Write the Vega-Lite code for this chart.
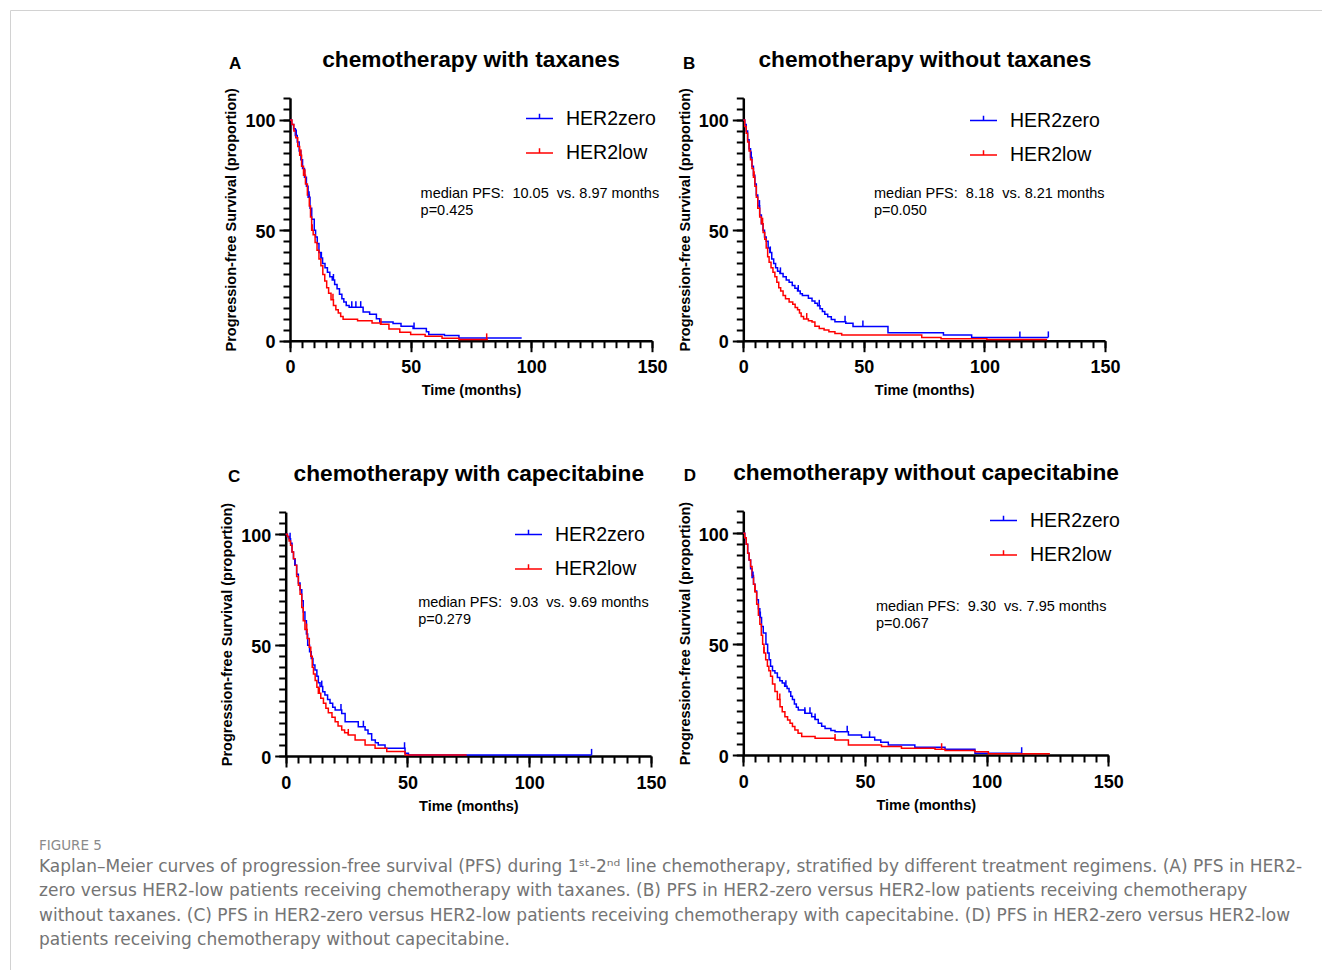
{
"$schema": "https://vega.github.io/schema/vega-lite/v6.json",
"width": 1312, "height": 960, "autosize": "none",
"padding": {"left": 10, "top": 10, "right": 0, "bottom": 0},
"background": "white",
"config": {"view": {"stroke": "#d2d2d2", "strokeWidth": 1}, "font": "Liberation Sans"},
"datasets": {
"kmA": [
{"t":0,"s":100,"g":"HER2zero"},{"t":0.7,"s":98,"g":"HER2zero"},{"t":1.5,"s":96,"g":"HER2zero"},{"t":2.2,"s":93,"g":"HER2zero"},{"t":3,"s":90,"g":"HER2zero"},{"t":3.8,"s":86,"g":"HER2zero"},{"t":4.5,"s":82,"g":"HER2zero"},{"t":5.2,"s":78,"g":"HER2zero"},{"t":6,"s":74,"g":"HER2zero"},{"t":6.8,"s":70,"g":"HER2zero"},{"t":7.5,"s":65,"g":"HER2zero"},{"t":8.3,"s":60,"g":"HER2zero"},{"t":9,"s":55,"g":"HER2zero"},{"t":10.05,"s":50,"g":"HER2zero"},{"t":10.6,"s":47,"g":"HER2zero"},{"t":11.3,"s":44,"g":"HER2zero"},{"t":12,"s":40,"g":"HER2zero"},{"t":12.8,"s":37.5,"g":"HER2zero"},{"t":13.5,"s":35,"g":"HER2zero"},{"t":14.5,"s":33,"g":"HER2zero"},{"t":15.5,"s":31,"g":"HER2zero"},{"t":16.5,"s":29,"g":"HER2zero"},{"t":17.5,"s":27.5,"g":"HER2zero"},{"t":18.5,"s":25.5,"g":"HER2zero"},{"t":19.5,"s":23.5,"g":"HER2zero"},{"t":20.5,"s":21,"g":"HER2zero"},{"t":21.5,"s":19,"g":"HER2zero"},{"t":22.3,"s":17.5,"g":"HER2zero"},{"t":23.3,"s":16,"g":"HER2zero"},{"t":24.5,"s":15.2,"g":"HER2zero"},{"t":30.3,"s":13,"g":"HER2zero"},{"t":33,"s":12,"g":"HER2zero"},{"t":35.8,"s":10,"g":"HER2zero"},{"t":37.2,"s":8.5,"g":"HER2zero"},{"t":42.7,"s":7.8,"g":"HER2zero"},{"t":46,"s":6.5,"g":"HER2zero"},{"t":51,"s":5.5,"g":"HER2zero"},{"t":56.5,"s":4,"g":"HER2zero"},{"t":57.5,"s":2.8,"g":"HER2zero"},{"t":64,"s":2.3,"g":"HER2zero"},{"t":70,"s":1.2,"g":"HER2zero"},{"t":96,"s":1.2,"g":"HER2zero"},
{"t":0,"s":100,"g":"HER2low"},{"t":0.8,"s":98,"g":"HER2low"},{"t":1.6,"s":95,"g":"HER2low"},{"t":2.4,"s":92,"g":"HER2low"},{"t":3.2,"s":88,"g":"HER2low"},{"t":4,"s":84,"g":"HER2low"},{"t":4.8,"s":79,"g":"HER2low"},{"t":5.6,"s":75,"g":"HER2low"},{"t":6.4,"s":71,"g":"HER2low"},{"t":7.2,"s":66,"g":"HER2low"},{"t":8,"s":61,"g":"HER2low"},{"t":8.5,"s":56,"g":"HER2low"},{"t":8.97,"s":50,"g":"HER2low"},{"t":9.6,"s":48,"g":"HER2low"},{"t":10.4,"s":44.5,"g":"HER2low"},{"t":11.2,"s":41,"g":"HER2low"},{"t":12,"s":37,"g":"HER2low"},{"t":12.8,"s":34,"g":"HER2low"},{"t":13.6,"s":30,"g":"HER2low"},{"t":14.4,"s":27,"g":"HER2low"},{"t":15.2,"s":24,"g":"HER2low"},{"t":16,"s":21.5,"g":"HER2low"},{"t":17,"s":18.5,"g":"HER2low"},{"t":18,"s":16,"g":"HER2low"},{"t":19,"s":14,"g":"HER2low"},{"t":20,"s":12.5,"g":"HER2low"},{"t":21,"s":11,"g":"HER2low"},{"t":22,"s":9.7,"g":"HER2low"},{"t":28,"s":9,"g":"HER2low"},{"t":34,"s":8,"g":"HER2low"},{"t":37.5,"s":7.5,"g":"HER2low"},{"t":41,"s":5.3,"g":"HER2low"},{"t":45.5,"s":3.8,"g":"HER2low"},{"t":50,"s":2.8,"g":"HER2low"},{"t":56,"s":2,"g":"HER2low"},{"t":63,"s":1.1,"g":"HER2low"},{"t":70,"s":0.6,"g":"HER2low"},{"t":82,"s":0.6,"g":"HER2low"}
],
"cenA": [
{"t":2.6,"s":93,"g":"HER2zero"},{"t":7.9,"s":65,"g":"HER2zero"},{"t":13,"s":37.5,"g":"HER2zero"},{"t":18,"s":27.5,"g":"HER2zero"},{"t":25.6,"s":15.2,"g":"HER2zero"},{"t":27.3,"s":15.2,"g":"HER2zero"},{"t":29.3,"s":15.2,"g":"HER2zero"},{"t":51.4,"s":5.5,"g":"HER2zero"},
{"t":4.5,"s":84,"g":"HER2low"},{"t":6.2,"s":75,"g":"HER2low"},{"t":9.2,"s":50,"g":"HER2low"},{"t":17.8,"s":18.5,"g":"HER2low"},{"t":37.7,"s":7.5,"g":"HER2low"},{"t":81.5,"s":0.6,"g":"HER2low"}
],
"kmB": [
{"t":0,"s":100,"g":"HER2zero"},{"t":0.6,"s":98,"g":"HER2zero"},{"t":1.2,"s":95,"g":"HER2zero"},{"t":1.8,"s":91,"g":"HER2zero"},{"t":2.4,"s":87,"g":"HER2zero"},{"t":3,"s":83,"g":"HER2zero"},{"t":3.6,"s":79,"g":"HER2zero"},{"t":4.2,"s":75,"g":"HER2zero"},{"t":4.8,"s":71,"g":"HER2zero"},{"t":5.4,"s":66,"g":"HER2zero"},{"t":6,"s":61,"g":"HER2zero"},{"t":6.8,"s":57,"g":"HER2zero"},{"t":7.5,"s":53,"g":"HER2zero"},{"t":8.18,"s":50,"g":"HER2zero"},{"t":8.8,"s":47,"g":"HER2zero"},{"t":9.5,"s":45,"g":"HER2zero"},{"t":10.3,"s":42,"g":"HER2zero"},{"t":11,"s":40,"g":"HER2zero"},{"t":11.8,"s":37,"g":"HER2zero"},{"t":12.6,"s":35,"g":"HER2zero"},{"t":13.4,"s":33,"g":"HER2zero"},{"t":14.2,"s":31.5,"g":"HER2zero"},{"t":15.2,"s":30.5,"g":"HER2zero"},{"t":16.5,"s":29,"g":"HER2zero"},{"t":17.8,"s":27.5,"g":"HER2zero"},{"t":19,"s":26.5,"g":"HER2zero"},{"t":20.3,"s":25,"g":"HER2zero"},{"t":21.4,"s":23.8,"g":"HER2zero"},{"t":22.5,"s":22.5,"g":"HER2zero"},{"t":23.6,"s":21.3,"g":"HER2zero"},{"t":24.5,"s":20.5,"g":"HER2zero"},{"t":27,"s":19.2,"g":"HER2zero"},{"t":28.5,"s":18,"g":"HER2zero"},{"t":29.7,"s":17,"g":"HER2zero"},{"t":30.8,"s":15.8,"g":"HER2zero"},{"t":31.8,"s":14.5,"g":"HER2zero"},{"t":32.8,"s":13.2,"g":"HER2zero"},{"t":33.8,"s":12,"g":"HER2zero"},{"t":35,"s":10.9,"g":"HER2zero"},{"t":36.5,"s":9.6,"g":"HER2zero"},{"t":38,"s":8.6,"g":"HER2zero"},{"t":42.5,"s":7.9,"g":"HER2zero"},{"t":45.5,"s":6.4,"g":"HER2zero"},{"t":60,"s":3.6,"g":"HER2zero"},{"t":83,"s":2.6,"g":"HER2zero"},{"t":94.7,"s":1.5,"g":"HER2zero"},{"t":126.5,"s":1.5,"g":"HER2zero"},
{"t":0,"s":100,"g":"HER2low"},{"t":0.6,"s":97,"g":"HER2low"},{"t":1.2,"s":94,"g":"HER2low"},{"t":1.8,"s":90,"g":"HER2low"},{"t":2.4,"s":86,"g":"HER2low"},{"t":3,"s":82,"g":"HER2low"},{"t":3.6,"s":78,"g":"HER2low"},{"t":4.2,"s":74,"g":"HER2low"},{"t":4.8,"s":70,"g":"HER2low"},{"t":5.4,"s":65,"g":"HER2low"},{"t":6,"s":60,"g":"HER2low"},{"t":6.8,"s":56,"g":"HER2low"},{"t":7.5,"s":53,"g":"HER2low"},{"t":8.21,"s":49,"g":"HER2low"},{"t":8.9,"s":46,"g":"HER2low"},{"t":9.5,"s":42,"g":"HER2low"},{"t":10.1,"s":38,"g":"HER2low"},{"t":10.7,"s":35.5,"g":"HER2low"},{"t":11.5,"s":33,"g":"HER2low"},{"t":12.3,"s":31,"g":"HER2low"},{"t":13.1,"s":29,"g":"HER2low"},{"t":13.9,"s":26.5,"g":"HER2low"},{"t":14.7,"s":24,"g":"HER2low"},{"t":15.5,"s":22.5,"g":"HER2low"},{"t":16.5,"s":20.5,"g":"HER2low"},{"t":17.5,"s":19,"g":"HER2low"},{"t":19,"s":17.5,"g":"HER2low"},{"t":20.5,"s":16.5,"g":"HER2low"},{"t":21.5,"s":15,"g":"HER2low"},{"t":22.5,"s":14,"g":"HER2low"},{"t":23.3,"s":12.5,"g":"HER2low"},{"t":24,"s":11,"g":"HER2low"},{"t":25,"s":9.8,"g":"HER2low"},{"t":27,"s":9,"g":"HER2low"},{"t":28.5,"s":8.5,"g":"HER2low"},{"t":29.7,"s":6.5,"g":"HER2low"},{"t":31.5,"s":5.5,"g":"HER2low"},{"t":33.5,"s":4.8,"g":"HER2low"},{"t":35.5,"s":4.1,"g":"HER2low"},{"t":38,"s":3.3,"g":"HER2low"},{"t":40.8,"s":2.6,"g":"HER2low"},{"t":74,"s":1.5,"g":"HER2low"},{"t":82,"s":0.9,"g":"HER2low"},{"t":101,"s":0.5,"g":"HER2low"},{"t":126,"s":0.5,"g":"HER2low"}
],
"cenB": [
{"t":3.3,"s":83,"g":"HER2zero"},{"t":6.7,"s":61,"g":"HER2zero"},{"t":11.2,"s":40,"g":"HER2zero"},{"t":15.4,"s":30.5,"g":"HER2zero"},{"t":22.8,"s":22.5,"g":"HER2zero"},{"t":31.5,"s":15.8,"g":"HER2zero"},{"t":42.2,"s":8.6,"g":"HER2zero"},{"t":49.6,"s":6.4,"g":"HER2zero"},{"t":114.7,"s":1.5,"g":"HER2zero"},{"t":126.5,"s":1.5,"g":"HER2zero"},
{"t":4.5,"s":74,"g":"HER2low"},{"t":8,"s":53,"g":"HER2low"},{"t":26.3,"s":9.8,"g":"HER2low"}
],
"kmC": [
{"t":0,"s":100,"g":"HER2zero"},{"t":0.7,"s":99,"g":"HER2zero"},{"t":1.4,"s":98,"g":"HER2zero"},{"t":2,"s":96,"g":"HER2zero"},{"t":2.6,"s":92,"g":"HER2zero"},{"t":3.2,"s":89,"g":"HER2zero"},{"t":3.8,"s":86,"g":"HER2zero"},{"t":4.5,"s":82,"g":"HER2zero"},{"t":5.2,"s":78,"g":"HER2zero"},{"t":5.9,"s":75,"g":"HER2zero"},{"t":6.6,"s":70,"g":"HER2zero"},{"t":7.2,"s":65,"g":"HER2zero"},{"t":7.9,"s":61,"g":"HER2zero"},{"t":8.5,"s":55,"g":"HER2zero"},{"t":9.03,"s":50,"g":"HER2zero"},{"t":9.8,"s":47,"g":"HER2zero"},{"t":10.5,"s":44,"g":"HER2zero"},{"t":11.2,"s":41,"g":"HER2zero"},{"t":12,"s":38.8,"g":"HER2zero"},{"t":12.8,"s":36,"g":"HER2zero"},{"t":13.4,"s":33,"g":"HER2zero"},{"t":14.1,"s":31.3,"g":"HER2zero"},{"t":15.2,"s":29,"g":"HER2zero"},{"t":16.1,"s":27.5,"g":"HER2zero"},{"t":17.2,"s":25.5,"g":"HER2zero"},{"t":18.2,"s":23.8,"g":"HER2zero"},{"t":19.3,"s":22,"g":"HER2zero"},{"t":20.3,"s":20.8,"g":"HER2zero"},{"t":23,"s":19.2,"g":"HER2zero"},{"t":24.4,"s":15.5,"g":"HER2zero"},{"t":29.8,"s":13.2,"g":"HER2zero"},{"t":32.6,"s":11.7,"g":"HER2zero"},{"t":33.8,"s":10,"g":"HER2zero"},{"t":35.3,"s":7.2,"g":"HER2zero"},{"t":36.8,"s":6,"g":"HER2zero"},{"t":38,"s":5,"g":"HER2zero"},{"t":40.8,"s":3.5,"g":"HER2zero"},{"t":49,"s":1.2,"g":"HER2zero"},{"t":50.4,"s":0.5,"g":"HER2zero"},{"t":125.6,"s":0.5,"g":"HER2zero"},
{"t":0,"s":100,"g":"HER2low"},{"t":0.7,"s":99,"g":"HER2low"},{"t":1.4,"s":97,"g":"HER2low"},{"t":2,"s":95,"g":"HER2low"},{"t":2.6,"s":92,"g":"HER2low"},{"t":3.2,"s":89,"g":"HER2low"},{"t":3.8,"s":86,"g":"HER2low"},{"t":4.5,"s":81,"g":"HER2low"},{"t":5.2,"s":77,"g":"HER2low"},{"t":5.9,"s":73,"g":"HER2low"},{"t":6.6,"s":67,"g":"HER2low"},{"t":7.2,"s":61,"g":"HER2low"},{"t":7.9,"s":57,"g":"HER2low"},{"t":8.8,"s":53,"g":"HER2low"},{"t":9.69,"s":49,"g":"HER2low"},{"t":10.3,"s":45,"g":"HER2low"},{"t":10.9,"s":40,"g":"HER2low"},{"t":11.4,"s":37,"g":"HER2low"},{"t":12.1,"s":34,"g":"HER2low"},{"t":12.8,"s":31,"g":"HER2low"},{"t":13.4,"s":28.3,"g":"HER2low"},{"t":14.4,"s":26,"g":"HER2low"},{"t":15.5,"s":23.8,"g":"HER2low"},{"t":16.5,"s":21.5,"g":"HER2low"},{"t":17.5,"s":19.5,"g":"HER2low"},{"t":19,"s":17.5,"g":"HER2low"},{"t":20.3,"s":15.5,"g":"HER2low"},{"t":21.5,"s":13.5,"g":"HER2low"},{"t":23,"s":11.7,"g":"HER2low"},{"t":24.2,"s":10.5,"g":"HER2low"},{"t":25.7,"s":9.5,"g":"HER2low"},{"t":28.5,"s":7.2,"g":"HER2low"},{"t":32.6,"s":5,"g":"HER2low"},{"t":36.7,"s":3.5,"g":"HER2low"},{"t":41.5,"s":2,"g":"HER2low"},{"t":49,"s":0.5,"g":"HER2low"},{"t":74.3,"s":0.5,"g":"HER2low"}
],
"cenC": [
{"t":1.8,"s":98,"g":"HER2zero"},{"t":3.8,"s":86,"g":"HER2zero"},{"t":14.8,"s":31.3,"g":"HER2zero"},{"t":22.7,"s":20.8,"g":"HER2zero"},{"t":31.9,"s":13.2,"g":"HER2zero"},{"t":48.8,"s":3.5,"g":"HER2zero"},{"t":125.6,"s":0.5,"g":"HER2zero"},
{"t":8.6,"s":57,"g":"HER2low"},{"t":13.8,"s":28.3,"g":"HER2low"},{"t":25.7,"s":9.5,"g":"HER2low"}
],
"kmD": [
{"t":0,"s":100,"g":"HER2zero"},{"t":0.6,"s":98,"g":"HER2zero"},{"t":1.2,"s":95,"g":"HER2zero"},{"t":1.8,"s":91,"g":"HER2zero"},{"t":2.4,"s":88,"g":"HER2zero"},{"t":3,"s":84,"g":"HER2zero"},{"t":3.6,"s":80,"g":"HER2zero"},{"t":4.2,"s":77,"g":"HER2zero"},{"t":4.8,"s":74,"g":"HER2zero"},{"t":5.5,"s":70,"g":"HER2zero"},{"t":6.2,"s":66,"g":"HER2zero"},{"t":6.8,"s":62,"g":"HER2zero"},{"t":7.5,"s":58,"g":"HER2zero"},{"t":8.2,"s":55,"g":"HER2zero"},{"t":9.3,"s":50,"g":"HER2zero"},{"t":10,"s":46,"g":"HER2zero"},{"t":10.6,"s":43,"g":"HER2zero"},{"t":11.2,"s":40,"g":"HER2zero"},{"t":12,"s":38,"g":"HER2zero"},{"t":13,"s":37,"g":"HER2zero"},{"t":14,"s":35,"g":"HER2zero"},{"t":15,"s":33.5,"g":"HER2zero"},{"t":16,"s":32.5,"g":"HER2zero"},{"t":17,"s":31,"g":"HER2zero"},{"t":18,"s":30,"g":"HER2zero"},{"t":18.8,"s":28.5,"g":"HER2zero"},{"t":19.5,"s":26.5,"g":"HER2zero"},{"t":20.2,"s":25,"g":"HER2zero"},{"t":21,"s":23,"g":"HER2zero"},{"t":21.8,"s":21.5,"g":"HER2zero"},{"t":22.6,"s":20.3,"g":"HER2zero"},{"t":25.3,"s":18.8,"g":"HER2zero"},{"t":28.1,"s":17.3,"g":"HER2zero"},{"t":29.5,"s":16,"g":"HER2zero"},{"t":30.8,"s":14.3,"g":"HER2zero"},{"t":32.2,"s":13,"g":"HER2zero"},{"t":33.6,"s":12,"g":"HER2zero"},{"t":36,"s":11,"g":"HER2zero"},{"t":37.7,"s":10.5,"g":"HER2zero"},{"t":43.2,"s":9,"g":"HER2zero"},{"t":48.6,"s":8,"g":"HER2zero"},{"t":54,"s":6.8,"g":"HER2zero"},{"t":56.5,"s":5.8,"g":"HER2zero"},{"t":59.6,"s":4.5,"g":"HER2zero"},{"t":70.5,"s":3.5,"g":"HER2zero"},{"t":82.9,"s":2.6,"g":"HER2zero"},{"t":95.2,"s":0.8,"g":"HER2zero"},{"t":114.4,"s":0.8,"g":"HER2zero"},
{"t":0,"s":100,"g":"HER2low"},{"t":0.6,"s":98,"g":"HER2low"},{"t":1.2,"s":95,"g":"HER2low"},{"t":1.8,"s":91,"g":"HER2low"},{"t":2.4,"s":88,"g":"HER2low"},{"t":3,"s":85,"g":"HER2low"},{"t":3.6,"s":81,"g":"HER2low"},{"t":4.2,"s":77,"g":"HER2low"},{"t":4.8,"s":73.5,"g":"HER2low"},{"t":5.5,"s":68,"g":"HER2low"},{"t":6.2,"s":63,"g":"HER2low"},{"t":6.8,"s":59,"g":"HER2low"},{"t":7.4,"s":54,"g":"HER2low"},{"t":7.95,"s":50,"g":"HER2low"},{"t":8.5,"s":46,"g":"HER2low"},{"t":9.2,"s":43,"g":"HER2low"},{"t":9.9,"s":40,"g":"HER2low"},{"t":10.5,"s":38,"g":"HER2low"},{"t":11.2,"s":35.5,"g":"HER2low"},{"t":12,"s":32,"g":"HER2low"},{"t":13,"s":28.6,"g":"HER2low"},{"t":14,"s":25,"g":"HER2low"},{"t":15.1,"s":21.8,"g":"HER2low"},{"t":16,"s":19.5,"g":"HER2low"},{"t":17.1,"s":17.3,"g":"HER2low"},{"t":18.2,"s":15.8,"g":"HER2low"},{"t":19.2,"s":14.3,"g":"HER2low"},{"t":20.2,"s":12.8,"g":"HER2low"},{"t":21.2,"s":11.3,"g":"HER2low"},{"t":22.5,"s":9.8,"g":"HER2low"},{"t":24,"s":8.3,"g":"HER2low"},{"t":29.5,"s":7.5,"g":"HER2low"},{"t":37.7,"s":6.8,"g":"HER2low"},{"t":43.2,"s":4.5,"g":"HER2low"},{"t":56.8,"s":3.8,"g":"HER2low"},{"t":65,"s":3,"g":"HER2low"},{"t":78.8,"s":2.6,"g":"HER2low"},{"t":82.9,"s":2,"g":"HER2low"},{"t":95.2,"s":1.5,"g":"HER2low"},{"t":100.7,"s":0.6,"g":"HER2low"},{"t":126,"s":0.6,"g":"HER2low"}
],
"cenD": [
{"t":4,"s":80,"g":"HER2zero"},{"t":7,"s":62,"g":"HER2zero"},{"t":17.5,"s":31,"g":"HER2zero"},{"t":25.3,"s":18.8,"g":"HER2zero"},{"t":27.4,"s":18.8,"g":"HER2zero"},{"t":29.5,"s":16,"g":"HER2zero"},{"t":42.7,"s":10.5,"g":"HER2zero"},{"t":51.9,"s":8,"g":"HER2zero"},{"t":114.4,"s":0.8,"g":"HER2zero"},
{"t":4.8,"s":73.5,"g":"HER2low"},{"t":8.5,"s":46,"g":"HER2low"},{"t":15,"s":25,"g":"HER2low"},{"t":37.7,"s":6.8,"g":"HER2low"},{"t":81.5,"s":2.6,"g":"HER2low"}
]
},
"layer": [
{
"layer": [
{"data": {"name": "kmA"}, "mark": {"type": "line", "interpolate": "step-after", "strokeWidth": 1.5},
"encoding": {
"x": {"field": "t", "type": "quantitative", "scale": {"domain": [0, 150], "range": [280, 642], "nice": false},
"axis": {"orient": "bottom", "offset": -629.3, "values": [0, 50, 100, 150], "tickSize": 11, "tickWidth": 2, "tickColor": "black", "domainColor": "black", "domainWidth": 2.5, "labelFont": "Liberation Sans", "labelFontSize": 18, "labelFontWeight": "bold", "labelColor": "black", "labelPadding": 7, "labelFlush": false, "labelOverlap": false, "grid": false, "title": "Time (months)", "titleFont": "Liberation Sans", "titleFontSize": 14.5, "titleFontWeight": "bold", "titleColor": "black", "titlePadding": 7}},
"y": {"field": "s", "type": "quantitative", "scale": {"domain": [0, 110], "range": [330.7, 87.9], "nice": false},
"axis": {"orient": "left", "offset": -280, "values": [0, 50, 100], "tickSize": 11, "tickWidth": 2, "tickColor": "black", "domainColor": "black", "domainWidth": 2.5, "labelFont": "Liberation Sans", "labelFontSize": 18, "labelFontWeight": "bold", "labelColor": "black", "labelPadding": 4, "labelBaseline": "middle", "labelOffset": 2, "labelFlush": false, "labelOverlap": false, "grid": false, "title": "Progression-free Survival (proportion)", "titleFont": "Liberation Sans", "titleFontSize": 14.5, "titleFontWeight": "bold", "titleColor": "black", "titlePadding": 6}},
"color": {"field": "g", "type": "nominal", "scale": {"domain": ["HER2zero", "HER2low"], "range": ["#0000ff", "#ff0000"]},
"legend": {"orient": "none", "legendX": 515, "legendY": 94, "title": null, "padding": 0, "symbolType": "M-1,0L1,0M0,0L0,-0.35", "symbolSize": 729, "symbolStrokeWidth": 1.5, "labelFont": "Liberation Sans", "labelFontSize": 19.5, "labelColor": "black", "labelOffset": 12, "rowPadding": 10.5}}
}},
{"data": {"name": "cenA"}, "mark": {"type": "point", "shape": "M0,0L0,-1", "size": 144, "strokeWidth": 1.5, "filled": false, "opacity": 1},
"encoding": {
"x": {"field": "t", "type": "quantitative", "axis": {"orient": "bottom", "offset": -629.3, "values": [0,5,10,15,20,25,30,35,40,45,50,55,60,65,70,75,80,85,90,95,100,105,110,115,120,125,130,135,140,145,150], "tickSize": 7, "tickWidth": 2, "tickColor": "black", "domain": false, "labels": false, "grid": false, "title": null}},
"y": {"field": "s", "type": "quantitative", "axis": {"orient": "left", "offset": -280, "values": [0,5,10,15,20,25,30,35,40,45,50,55,60,65,70,75,80,85,90,95,100,105,110], "tickSize": 7, "tickWidth": 2, "tickColor": "black", "domain": false, "labels": false, "grid": false, "title": null}},
"color": {"field": "g", "type": "nominal", "legend": null}
}},
{"data": {"values": [{}]}, "mark": {"type": "text", "text": "chemotherapy with taxanes", "font": "Liberation Sans", "fontSize": 22.7, "fontWeight": "bold", "align": "center", "baseline": "alphabetic", "color": "black"},
"encoding": {"x": {"datum": 75, "axis": null}, "y": {"datum": 124.2, "axis": null}}},
{"data": {"values": [{}]}, "mark": {"type": "text", "text": "A", "font": "Liberation Sans", "fontSize": 17, "fontWeight": "bold", "align": "center", "baseline": "alphabetic", "color": "black"},
"encoding": {"x": {"datum": -22.7, "axis": null}, "y": {"datum": 123.2, "axis": null}}},
{"data": {"values": [{}]}, "mark": {"type": "text", "text": ["median PFS:\u00a0 10.05\u00a0 vs. 8.97 months", "p=0.425"], "lineHeight": 17, "font": "Liberation Sans", "fontSize": 14.5, "align": "left", "baseline": "alphabetic", "color": "black"},
"encoding": {"x": {"datum": 54.1, "axis": null}, "y": {"datum": 64.8, "axis": null}}}
],
"resolve": {"axis": {"x": "independent", "y": "independent"}}
},
{
"layer": [
{"data": {"name": "kmB"}, "mark": {"type": "line", "interpolate": "step-after", "strokeWidth": 1.5},
"encoding": {
"x": {"field": "t", "type": "quantitative", "scale": {"domain": [0, 150], "range": [733.3, 1095], "nice": false},
"axis": {"orient": "bottom", "offset": -629.3, "values": [0, 50, 100, 150], "tickSize": 11, "tickWidth": 2, "tickColor": "black", "domainColor": "black", "domainWidth": 2.5, "labelFont": "Liberation Sans", "labelFontSize": 18, "labelFontWeight": "bold", "labelColor": "black", "labelPadding": 7, "labelFlush": false, "labelOverlap": false, "grid": false, "title": "Time (months)", "titleFont": "Liberation Sans", "titleFontSize": 14.5, "titleFontWeight": "bold", "titleColor": "black", "titlePadding": 7}},
"y": {"field": "s", "type": "quantitative", "scale": {"domain": [0, 110], "range": [330.7, 87.9], "nice": false},
"axis": {"orient": "left", "offset": -733.3, "values": [0, 50, 100], "tickSize": 11, "tickWidth": 2, "tickColor": "black", "domainColor": "black", "domainWidth": 2.5, "labelFont": "Liberation Sans", "labelFontSize": 18, "labelFontWeight": "bold", "labelColor": "black", "labelPadding": 4, "labelBaseline": "middle", "labelOffset": 2, "labelFlush": false, "labelOverlap": false, "grid": false, "title": "Progression-free Survival (proportion)", "titleFont": "Liberation Sans", "titleFontSize": 14.5, "titleFontWeight": "bold", "titleColor": "black", "titlePadding": 6}},
"color": {"field": "g", "type": "nominal", "scale": {"domain": ["HER2zero", "HER2low"], "range": ["#0000ff", "#ff0000"]},
"legend": {"orient": "none", "legendX": 959, "legendY": 96, "title": null, "padding": 0, "symbolType": "M-1,0L1,0M0,0L0,-0.35", "symbolSize": 729, "symbolStrokeWidth": 1.5, "labelFont": "Liberation Sans", "labelFontSize": 19.5, "labelColor": "black", "labelOffset": 12, "rowPadding": 10.5}}
}},
{"data": {"name": "cenB"}, "mark": {"type": "point", "shape": "M0,0L0,-1", "size": 144, "strokeWidth": 1.5, "filled": false, "opacity": 1},
"encoding": {
"x": {"field": "t", "type": "quantitative", "axis": {"orient": "bottom", "offset": -629.3, "values": [0,5,10,15,20,25,30,35,40,45,50,55,60,65,70,75,80,85,90,95,100,105,110,115,120,125,130,135,140,145,150], "tickSize": 7, "tickWidth": 2, "tickColor": "black", "domain": false, "labels": false, "grid": false, "title": null}},
"y": {"field": "s", "type": "quantitative", "axis": {"orient": "left", "offset": -733.3, "values": [0,5,10,15,20,25,30,35,40,45,50,55,60,65,70,75,80,85,90,95,100,105,110], "tickSize": 7, "tickWidth": 2, "tickColor": "black", "domain": false, "labels": false, "grid": false, "title": null}},
"color": {"field": "g", "type": "nominal", "legend": null}
}},
{"data": {"values": [{}]}, "mark": {"type": "text", "text": "chemotherapy without taxanes", "font": "Liberation Sans", "fontSize": 22.7, "fontWeight": "bold", "align": "center", "baseline": "alphabetic", "color": "black"},
"encoding": {"x": {"datum": 75.3, "axis": null}, "y": {"datum": 124.2, "axis": null}}},
{"data": {"values": [{}]}, "mark": {"type": "text", "text": "B", "font": "Liberation Sans", "fontSize": 17, "fontWeight": "bold", "align": "center", "baseline": "alphabetic", "color": "black"},
"encoding": {"x": {"datum": -22.5, "axis": null}, "y": {"datum": 123.2, "axis": null}}},
{"data": {"values": [{}]}, "mark": {"type": "text", "text": ["median PFS:\u00a0 8.18\u00a0 vs. 8.21 months", "p=0.050"], "lineHeight": 17, "font": "Liberation Sans", "fontSize": 14.5, "align": "left", "baseline": "alphabetic", "color": "black"},
"encoding": {"x": {"datum": 54.2, "axis": null}, "y": {"datum": 64.8, "axis": null}}}
],
"resolve": {"axis": {"x": "independent", "y": "independent"}}
},
{
"layer": [
{"data": {"name": "kmC"}, "mark": {"type": "line", "interpolate": "step-after", "strokeWidth": 1.5},
"encoding": {
"x": {"field": "t", "type": "quantitative", "scale": {"domain": [0, 150], "range": [275.7, 641], "nice": false},
"axis": {"orient": "bottom", "offset": -214, "values": [0, 50, 100, 150], "tickSize": 11, "tickWidth": 2, "tickColor": "black", "domainColor": "black", "domainWidth": 2.5, "labelFont": "Liberation Sans", "labelFontSize": 18, "labelFontWeight": "bold", "labelColor": "black", "labelPadding": 7, "labelFlush": false, "labelOverlap": false, "grid": false, "title": "Time (months)", "titleFont": "Liberation Sans", "titleFontSize": 14.5, "titleFontWeight": "bold", "titleColor": "black", "titlePadding": 7}},
"y": {"field": "s", "type": "quantitative", "scale": {"domain": [0, 110], "range": [746, 502.1], "nice": false},
"axis": {"orient": "left", "offset": -275.7, "values": [0, 50, 100], "tickSize": 11, "tickWidth": 2, "tickColor": "black", "domainColor": "black", "domainWidth": 2.5, "labelFont": "Liberation Sans", "labelFontSize": 18, "labelFontWeight": "bold", "labelColor": "black", "labelPadding": 4, "labelBaseline": "middle", "labelOffset": 2, "labelFlush": false, "labelOverlap": false, "grid": false, "title": "Progression-free Survival (proportion)", "titleFont": "Liberation Sans", "titleFontSize": 14.5, "titleFontWeight": "bold", "titleColor": "black", "titlePadding": 6}},
"color": {"field": "g", "type": "nominal", "scale": {"domain": ["HER2zero", "HER2low"], "range": ["#0000ff", "#ff0000"]},
"legend": {"orient": "none", "legendX": 504, "legendY": 510, "title": null, "padding": 0, "symbolType": "M-1,0L1,0M0,0L0,-0.35", "symbolSize": 729, "symbolStrokeWidth": 1.5, "labelFont": "Liberation Sans", "labelFontSize": 19.5, "labelColor": "black", "labelOffset": 12, "rowPadding": 10.5}}
}},
{"data": {"name": "cenC"}, "mark": {"type": "point", "shape": "M0,0L0,-1", "size": 144, "strokeWidth": 1.5, "filled": false, "opacity": 1},
"encoding": {
"x": {"field": "t", "type": "quantitative", "axis": {"orient": "bottom", "offset": -214, "values": [0,5,10,15,20,25,30,35,40,45,50,55,60,65,70,75,80,85,90,95,100,105,110,115,120,125,130,135,140,145,150], "tickSize": 7, "tickWidth": 2, "tickColor": "black", "domain": false, "labels": false, "grid": false, "title": null}},
"y": {"field": "s", "type": "quantitative", "axis": {"orient": "left", "offset": -275.7, "values": [0,5,10,15,20,25,30,35,40,45,50,55,60,65,70,75,80,85,90,95,100,105,110], "tickSize": 7, "tickWidth": 2, "tickColor": "black", "domain": false, "labels": false, "grid": false, "title": null}},
"color": {"field": "g", "type": "nominal", "legend": null}
}},
{"data": {"values": [{}]}, "mark": {"type": "text", "text": "chemotherapy with capecitabine", "font": "Liberation Sans", "fontSize": 22.7, "fontWeight": "bold", "align": "center", "baseline": "alphabetic", "color": "black"},
"encoding": {"x": {"datum": 75.2, "axis": null}, "y": {"datum": 124, "axis": null}}},
{"data": {"values": [{}]}, "mark": {"type": "text", "text": "C", "font": "Liberation Sans", "fontSize": 17, "fontWeight": "bold", "align": "center", "baseline": "alphabetic", "color": "black"},
"encoding": {"x": {"datum": -21.2, "axis": null}, "y": {"datum": 123.6, "axis": null}}},
{"data": {"values": [{}]}, "mark": {"type": "text", "text": ["median PFS:\u00a0 9.03\u00a0 vs. 9.69 months", "p=0.279"], "lineHeight": 17, "font": "Liberation Sans", "fontSize": 14.5, "align": "left", "baseline": "alphabetic", "color": "black"},
"encoding": {"x": {"datum": 54.4, "axis": null}, "y": {"datum": 67.2, "axis": null}}}
],
"resolve": {"axis": {"x": "independent", "y": "independent"}}
},
{
"layer": [
{"data": {"name": "kmD"}, "mark": {"type": "line", "interpolate": "step-after", "strokeWidth": 1.5},
"encoding": {
"x": {"field": "t", "type": "quantitative", "scale": {"domain": [0, 150], "range": [733.3, 1098.3], "nice": false},
"axis": {"orient": "bottom", "offset": -215, "values": [0, 50, 100, 150], "tickSize": 11, "tickWidth": 2, "tickColor": "black", "domainColor": "black", "domainWidth": 2.5, "labelFont": "Liberation Sans", "labelFontSize": 18, "labelFontWeight": "bold", "labelColor": "black", "labelPadding": 7, "labelFlush": false, "labelOverlap": false, "grid": false, "title": "Time (months)", "titleFont": "Liberation Sans", "titleFontSize": 14.5, "titleFontWeight": "bold", "titleColor": "black", "titlePadding": 7}},
"y": {"field": "s", "type": "quantitative", "scale": {"domain": [0, 110], "range": [745, 501.1], "nice": false},
"axis": {"orient": "left", "offset": -733.3, "values": [0, 50, 100], "tickSize": 11, "tickWidth": 2, "tickColor": "black", "domainColor": "black", "domainWidth": 2.5, "labelFont": "Liberation Sans", "labelFontSize": 18, "labelFontWeight": "bold", "labelColor": "black", "labelPadding": 4, "labelBaseline": "middle", "labelOffset": 2, "labelFlush": false, "labelOverlap": false, "grid": false, "title": "Progression-free Survival (proportion)", "titleFont": "Liberation Sans", "titleFontSize": 14.5, "titleFontWeight": "bold", "titleColor": "black", "titlePadding": 6}},
"color": {"field": "g", "type": "nominal", "scale": {"domain": ["HER2zero", "HER2low"], "range": ["#0000ff", "#ff0000"]},
"legend": {"orient": "none", "legendX": 979, "legendY": 496, "title": null, "padding": 0, "symbolType": "M-1,0L1,0M0,0L0,-0.35", "symbolSize": 729, "symbolStrokeWidth": 1.5, "labelFont": "Liberation Sans", "labelFontSize": 19.5, "labelColor": "black", "labelOffset": 12, "rowPadding": 10.5}}
}},
{"data": {"name": "cenD"}, "mark": {"type": "point", "shape": "M0,0L0,-1", "size": 144, "strokeWidth": 1.5, "filled": false, "opacity": 1},
"encoding": {
"x": {"field": "t", "type": "quantitative", "axis": {"orient": "bottom", "offset": -215, "values": [0,5,10,15,20,25,30,35,40,45,50,55,60,65,70,75,80,85,90,95,100,105,110,115,120,125,130,135,140,145,150], "tickSize": 7, "tickWidth": 2, "tickColor": "black", "domain": false, "labels": false, "grid": false, "title": null}},
"y": {"field": "s", "type": "quantitative", "axis": {"orient": "left", "offset": -733.3, "values": [0,5,10,15,20,25,30,35,40,45,50,55,60,65,70,75,80,85,90,95,100,105,110], "tickSize": 7, "tickWidth": 2, "tickColor": "black", "domain": false, "labels": false, "grid": false, "title": null}},
"color": {"field": "g", "type": "nominal", "legend": null}
}},
{"data": {"values": [{}]}, "mark": {"type": "text", "text": "chemotherapy without capecitabine", "font": "Liberation Sans", "fontSize": 22.7, "fontWeight": "bold", "align": "center", "baseline": "alphabetic", "color": "black"},
"encoding": {"x": {"datum": 75.1, "axis": null}, "y": {"datum": 123.9, "axis": null}}},
{"data": {"values": [{}]}, "mark": {"type": "text", "text": "D", "font": "Liberation Sans", "fontSize": 17, "fontWeight": "bold", "align": "center", "baseline": "alphabetic", "color": "black"},
"encoding": {"x": {"datum": -21.9, "axis": null}, "y": {"datum": 123.5, "axis": null}}},
{"data": {"values": [{}]}, "mark": {"type": "text", "text": ["median PFS:\u00a0 9.30\u00a0 vs. 7.95 months", "p=0.067"], "lineHeight": 17, "font": "Liberation Sans", "fontSize": 14.5, "align": "left", "baseline": "alphabetic", "color": "black"},
"encoding": {"x": {"datum": 54.5, "axis": null}, "y": {"datum": 64.9, "axis": null}}}
],
"resolve": {"axis": {"x": "independent", "y": "independent"}}
},
{
"layer": [
{"data": {"values": [{}]}, "mark": {"type": "text", "text": "FIGURE 5", "font": "DejaVu Sans", "fontSize": 13.5, "align": "left", "baseline": "alphabetic", "color": "#8a8a8a"},
"encoding": {"x": {"datum": 0, "scale": {"domain": [0, 1], "range": [29, 1300]}, "axis": null}, "y": {"datum": 0, "scale": {"domain": [0, 1], "range": [840, 862]}, "axis": null}}},
{"data": {"values": [{}]}, "mark": {"type": "text", "text": ["Kaplan–Meier curves of progression-free survival (PFS) during 1ˢᵗ-2ⁿᵈ line chemotherapy, stratified by different treatment regimens. (A) PFS in HER2-", "zero versus HER2-low patients receiving chemotherapy with taxanes. (B) PFS in HER2-zero versus HER2-low patients receiving chemotherapy", "without taxanes. (C) PFS in HER2-zero versus HER2-low patients receiving chemotherapy with capecitabine. (D) PFS in HER2-zero versus HER2-low", "patients receiving chemotherapy without capecitabine."], "lineHeight": 24.4, "font": "DejaVu Sans", "fontSize": 17, "align": "left", "baseline": "alphabetic", "color": "#747474"},
"encoding": {"x": {"datum": 0, "axis": null}, "y": {"datum": 1, "axis": null}}}
]
}
],
"resolve": {"scale": {"x": "independent", "y": "independent", "color": "independent"}, "axis": {"x": "independent", "y": "independent"}}
}
